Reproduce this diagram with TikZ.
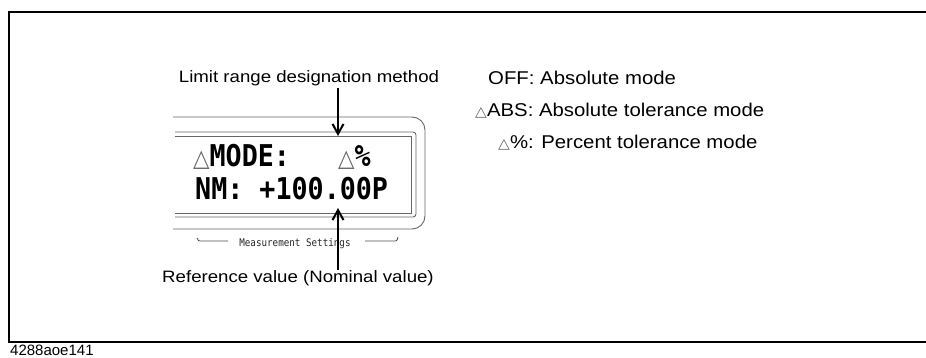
\documentclass[tikz,border=0pt]{standalone}
\usepackage{fontspec}
\setmainfont{Liberation Sans}
\newfontfamily\lcdfont{DejaVu Sans Mono}
\newfontfamily\symfont{DejaVu Sans}
\usetikzlibrary{arrows.meta}

\newcommand{\smalltri}{{\color{black!60}\symfont\fontsize{14}{14}\selectfont △}}
\newcommand{\lcdtri}{{\color{black!60}\symfont\fontsize{24}{24}\selectfont △}}

\begin{document}
\begin{tikzpicture}[x=1pt, y=1pt, >={Straight Barb[length=10pt, width=11pt]},
  panel/.style={draw=black!60, line width=0.9pt},
  callout/.style={font=\fontsize{16.5}{18}\selectfont, xscale=1.13, inner sep=1pt},
  modetext/.style={font=\fontsize{18.5}{20}\selectfont, xscale=1.10, anchor=base west, inner sep=0pt},
  lcd/.style={font=\lcdfont\bfseries\fontsize{30}{32}\selectfont, xscale=0.89, anchor=base west, inner sep=0pt}]
  \useasboundingbox (0,0) rectangle (926,358);

  % frame, open to the right
  \draw[line width=2pt] (926,346) -- (9,346) -- (9,16) -- (926,16);
  \node[font=\fontsize{15}{16}\selectfont, anchor=base west, inner sep=0pt] (fig) at (10,2.5) {4288aoe141};

  % display panel
  \draw[panel] (173,241) -- (412,241) arc[start angle=90, end angle=0, radius=13]
    -- (425,142) arc[start angle=0, end angle=-90, radius=13] -- (173,129);
  \draw[panel] (175,226) -- (413,226) arc[start angle=90, end angle=0, radius=3]
    -- (416,144) arc[start angle=0, end angle=-90, radius=3] -- (175,141);
  \draw[panel] (175,222) -- (411,222) -- (411,145) -- (175,145);

  \node[lcd] (mode) at (193,191) {\lcdtri MODE:\ \ \ \lcdtri\%};
  \node[lcd] (nm) at (195,158) {NM: +100.00P};

  \node[font=\lcdfont\fontsize{10.5}{11}\selectfont, xscale=0.88, anchor=base, inner sep=0pt, text=black!85]
    (meas) at (295,111) {Measurement Settings};
  \draw[black!70, line width=0.8pt] (197,120) .. controls (198,117) .. (203,117) -- (228,117);
  \draw[black!70, line width=0.8pt] (365,117) -- (393,117) .. controls (397,117) .. (398,121);

  % callouts
  \node[callout, anchor=base] (lim) at (309,275) {Limit range designation method};
  \node[callout, anchor=base] (ref) at (298,75) {Reference value (Nominal value)};
  \coordinate (tiptop) at (338,222);
  \coordinate (tipbot) at (338,150);
  \draw[->, line width=2pt] (lim.south -| tiptop) -- (tiptop);
  \draw[->, line width=2pt] (ref.north -| tipbot) -- (tipbot);

  % mode list
  \node[modetext] (off) at (488,273) {OFF: Absolute mode};
  \node[modetext] (abs) at (475,241) {\smalltri ABS: Absolute tolerance mode};
  \node[modetext] (pct) at (498,209) {\smalltri\%: Percent tolerance mode};
\end{tikzpicture}
\end{document}
